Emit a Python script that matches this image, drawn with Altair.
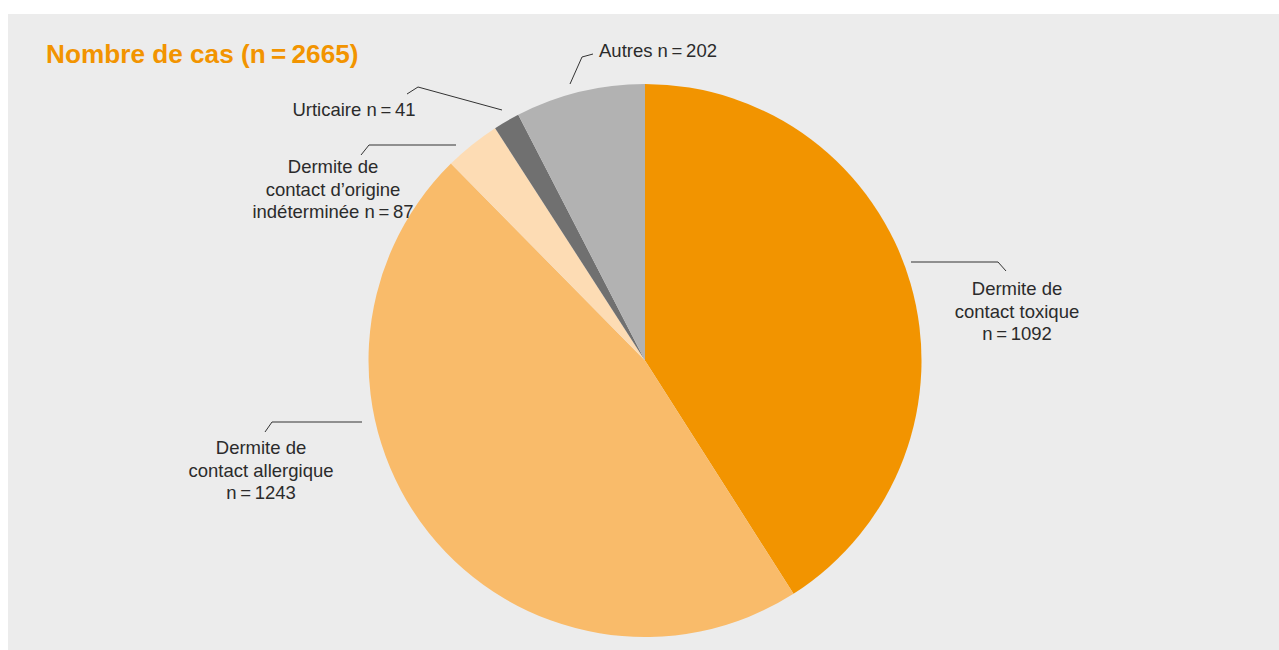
import altair as alt
import pandas as pd

W, H = 1279, 650

# ---- data ----
categories = [
    "Dermite de contact toxique",
    "Dermite de contact allergique",
    "Dermite de contact d’origine indéterminée",
    "Urticaire",
    "Autres",
]
values = [1092, 1243, 87, 41, 202]
colors = ["#f29400", "#f9bb6a", "#fddcb4", "#707070", "#b2b2b2"]
label_names = [
    "Dermite de\ncontact toxique",
    "Dermite de\ncontact allergique",
    "Dermite de\ncontact d’origine\nindéterminée",
    "Urticaire",
    "Autres",
]
label_seps = ["\n", "\n", " ", " ", " "]
title_text = "Nombre de cas (n\u2009=\u2009{})".format(sum(values))

# ---- layout (annotation placement, in pixels) ----
label_x = [1017, 261, 333, 354, 658]
label_y = [295, 454, 173, 116, 57]
leader_x = [[911, 998, 1006], [362, 272, 265], [456, 369, 361], [502, 418, 407], [570, 582, 593]]
leader_y = [[262, 262, 271], [422, 422, 432], [145, 145, 155], [110, 87, 94], [84, 57, 54]]
center_x, center_y, radius = 645, 360.5, 276.5

pie_df = pd.DataFrame({"category": categories, "value": values, "idx": list(range(len(values)))})
label_df = pd.DataFrame({
    "label": [n + s + "n\u2009=\u2009" + str(v) for n, s, v in zip(label_names, label_seps, values)],
    "x": label_x,
    "y": label_y,
})
rows = []
for i, (xs, ys) in enumerate(zip(leader_x, leader_y)):
    for j, (px, py) in enumerate(zip(xs, ys)):
        rows.append({"cat": categories[i], "k": j, "x": px, "y": py})
leader_df = pd.DataFrame(rows)
title_df = pd.DataFrame({"label": [title_text], "x": [46], "y": [63]})

xs = alt.Scale(domain=[0, W], range=[0, W], nice=False, zero=False)
ys = alt.Scale(domain=[0, H], range=[0, H], nice=False, zero=False)

panel = alt.Chart(pd.DataFrame({"a": [0]})).mark_rect(color="#ececec").encode(
    x=alt.value(8), x2=alt.value(W), y=alt.value(14), y2=alt.value(H)
)

pie = alt.Chart(pie_df).mark_arc(outerRadius=radius, stroke=None).encode(
    theta=alt.Theta("value:Q", stack=True),
    color=alt.Color("category:N", scale=alt.Scale(domain=categories, range=colors), legend=None),
    order=alt.Order("idx:Q"),
    x=alt.value(center_x),
    y=alt.value(center_y),
)

leaders = alt.Chart(leader_df).mark_line(color="#333333", strokeWidth=1).encode(
    x=alt.X("x:Q", scale=xs, axis=None),
    y=alt.Y("y:Q", scale=ys, axis=None),
    detail="cat:N",
    order="k:Q",
)

labels = alt.Chart(label_df).mark_text(
    font="Liberation Sans", fontSize=18.5, color="#2b2b2b", align="center",
    baseline="alphabetic", lineBreak="\n", lineHeight=22.5,
).encode(
    x=alt.X("x:Q", scale=xs, axis=None),
    y=alt.Y("y:Q", scale=ys, axis=None),
    text="label:N",
)

title = alt.Chart(title_df).mark_text(
    font="Liberation Sans", fontSize=26.2, fontWeight="bold", color="#f29400",
    align="left", baseline="alphabetic",
).encode(
    x=alt.X("x:Q", scale=xs, axis=None),
    y=alt.Y("y:Q", scale=ys, axis=None),
    text="label:N",
)

chart = alt.layer(panel, pie, leaders, labels, title).properties(
    width=W, height=H, padding=0, background="white",
    autosize=alt.AutoSizeParams(type="none"),
).configure_view(stroke=None)

chart.save("out.html", embed_options={"renderer": "svg", "actions": False})
